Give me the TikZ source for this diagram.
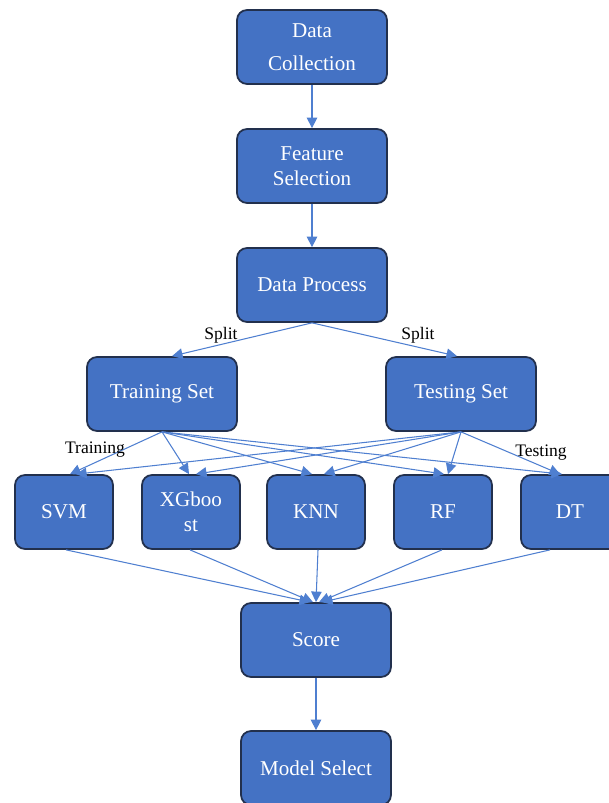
\documentclass[tikz,border=0pt]{standalone}
\usepackage{fontspec}
\setmainfont{Liberation Serif}
\usetikzlibrary{arrows.meta}

\definecolor{boxblue}{HTML}{4472C4}
\definecolor{boxedge}{HTML}{22304D}
\definecolor{linkblue}{HTML}{4F7FD0}

\begin{document}
\begin{tikzpicture}[x=0.02cm, y=-0.02cm,
	stage/.style={draw=boxedge, line width=1pt, fill=boxblue, rounded corners=0.2cm,
		text=white, align=center, inner sep=0pt, minimum width=3cm, minimum height=1.48cm,
		font=\fontsize{12}{14.5}\selectfont},
	model/.style={stage, minimum width=1.96cm},
	link/.style={draw=linkblue, line width=0.6pt, -{Triangle[length=6pt, width=6pt]}},
	tag/.style={font=\fontsize{10}{12}\selectfont, inner sep=1pt}]
\useasboundingbox (0,0) rectangle (608,803);

% main chain
\node[stage] (collect) at (312,47)  {Data\\[4pt]Collection};
\node[stage] (feature) at (312,166) {Feature\\Selection};
\node[stage] (process) at (312,285) {Data Process};
\node[stage] (train)   at (162,394) {Training Set};
\node[stage] (test)    at (461,394) {Testing Set};

% the five classifiers
\node[model] (svm) at (64,512)  {SVM};
\node[model] (xgb) at (191,512) {XGboo\\st};
\node[model] (knn) at (316,512) {KNN};
\node[model] (rf)  at (443,512) {RF};
\node[model] (dt)  at (570,512) {DT};

\node[stage] (score)  at (316,640) {Score};
\node[stage] (select) at (316,768) {Model Select};

\draw[link] (collect) -- (feature);
\draw[link] (feature) -- (process);
\draw[link] (process.south) -- ([xshift=0.2cm]train.north);
\draw[link] (process.south) -- ([xshift=-0.08cm]test.north);
\node[tag] (splitl) at (221,335) {Split};
\node[tag] (splitr) at (418,335) {Split};

% every model gets both sets
\foreach \m/\a/\b in {svm/6/12, xgb/-2/5, knn/-4/8, rf/1/5, dt/-8/-10} {
	\draw[link] (train.south) -- ([xshift=\a*0.02cm]\m.north);
	\draw[link] (test.south)  -- ([xshift=\b*0.02cm]\m.north);
}
\node[tag] (trainlbl) at (95,450)  {Training};
\node[tag] (testlbl)  at (541,453) {Testing};

\foreach \m/\s/\t in {svm/2/-6, xgb/-1/-3, knn/2/0, rf/-1/3, dt/-20/6}
	\draw[link] ([xshift=\s*0.02cm]\m.south) -- ([xshift=\t*0.02cm]score.north);
\draw[link] (score) -- (select);
\end{tikzpicture}
\end{document}
